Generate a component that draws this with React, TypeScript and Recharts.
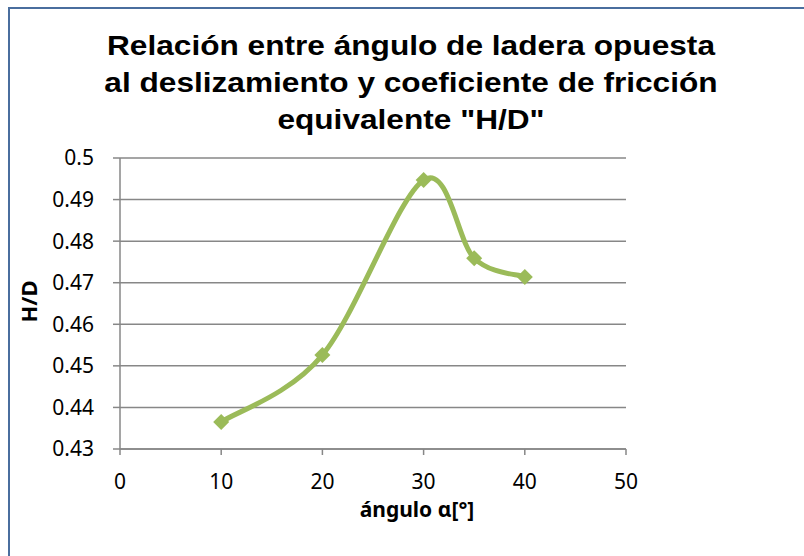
import React from 'react';
import { ComposedChart, Line, XAxis, YAxis, CartesianGrid } from 'recharts';

// ángulo de ladera opuesta (°) y coeficiente H/D
const angles = [10, 20, 30, 35, 40];
const hdValues = [0.4365, 0.4526, 0.4947, 0.4759, 0.4714];
const xTicks = [0, 10, 20, 30, 40, 50];
const yTicks = [0.43, 0.44, 0.45, 0.46, 0.47, 0.48, 0.49, 0.5];
const titleLines = [
  'Relación entre ángulo de ladera opuesta',
  'al deslizamiento y coeficiente de fricción',
  'equivalente "H/D"',
];

const data = angles.map((a, i) => ({ angle: a, hd: hdValues[i] }));

const GREEN = '#9bbb59';
const GRID = '#878787';

// suavizado tipo Excel (Catmull-Rom uniforme)
const excelSmooth = (context: any) => {
  let pts: number[][] = [];
  return {
    areaStart() {},
    areaEnd() {},
    lineStart() {
      pts = [];
    },
    point(x: number, y: number) {
      pts.push([+x, +y]);
    },
    lineEnd() {
      if (!pts.length) return;
      context.moveTo(pts[0][0], pts[0][1]);
      for (let i = 0; i < pts.length - 1; i++) {
        const p0 = pts[i - 1] || pts[i];
        const p1 = pts[i];
        const p2 = pts[i + 1];
        const p3 = pts[i + 2] || p2;
        context.bezierCurveTo(
          p1[0] + (p2[0] - p0[0]) / 6,
          p1[1] + (p2[1] - p0[1]) / 6,
          p2[0] - (p3[0] - p1[0]) / 6,
          p2[1] - (p3[1] - p1[1]) / 6,
          p2[0],
          p2[1]
        );
      }
    },
  };
};

const Diamond = (props: any) => {
  const { cx, cy } = props;
  if (cx == null || cy == null) return null;
  const r = 8;
  return <path d={`M${cx},${cy - r} L${cx + r},${cy} L${cx},${cy + r} L${cx - r},${cy} Z`} fill={GREEN} />;
};

const fmt = (v: number) => String(Number(v.toFixed(2)));

export default function App() {
  return (
    <div style={{ position: 'absolute', left: 0, top: 0, width: 804, height: 556, background: '#fff', overflow: 'hidden' }}>
      <div
        style={{
          position: 'absolute',
          left: 8,
          top: 7,
          width: 820,
          height: 600,
          borderLeft: '2px solid #4a6e9e',
          borderTop: '2px solid #4a6e9e',
        }}
      />
      <ComposedChart
        width={804}
        height={556}
        data={data}
        margin={{ top: 158, right: 178, bottom: 77, left: 60 }}
        style={{ position: 'absolute', left: 0, top: 0 }}
      >
        <CartesianGrid vertical={false} stroke={GRID} strokeWidth={1.5} />
        <XAxis
          dataKey="angle"
          type="number"
          domain={[0, 50]}
          ticks={xTicks}
          height={30}
          stroke={GRID}
          strokeWidth={1.5}
          tickSize={6}
          tickMargin={19}
          tick={{ fill: '#000', fontSize: 21, fontFamily: 'Noto Sans' }}
        />
        <YAxis
          type="number"
          domain={[0.43, 0.5]}
          ticks={yTicks}
          tickFormatter={fmt}
          width={60}
          stroke={GRID}
          strokeWidth={1.5}
          tickSize={7}
          tickMargin={19}
          tick={{ fill: '#000', fontSize: 21, fontFamily: 'Noto Sans' }}
        />
        <Line
          dataKey="hd"
          type={excelSmooth as any}
          stroke={GREEN}
          strokeWidth={5}
          dot={<Diamond />}
          activeDot={false}
          isAnimationActive={false}
        />
        <text
          textAnchor="middle"
          fontFamily="Liberation Sans, Arial, sans-serif"
          fontWeight="bold"
          fontSize={28.5}
          fill="#000"
          transform="translate(411,0) scale(1.11,1) translate(-411,0)"
        >
          {titleLines.map((t, i) => (
            <tspan key={i} x={411} y={55 + i * 37}>
              {t}
            </tspan>
          ))}
        </text>
        <text x={417} y={517} textAnchor="middle" fontFamily="Noto Sans" fontWeight="bold" fontSize={21} fill="#000">
          ángulo α[°]
        </text>
        <text
          x={0}
          y={0}
          transform="translate(37,301.5) rotate(-90)"
          textAnchor="middle"
          fontFamily="Noto Sans"
          fontWeight="bold"
          fontSize={22}
          fill="#000"
        >
          H/D
        </text>
      </ComposedChart>
    </div>
  );
}
